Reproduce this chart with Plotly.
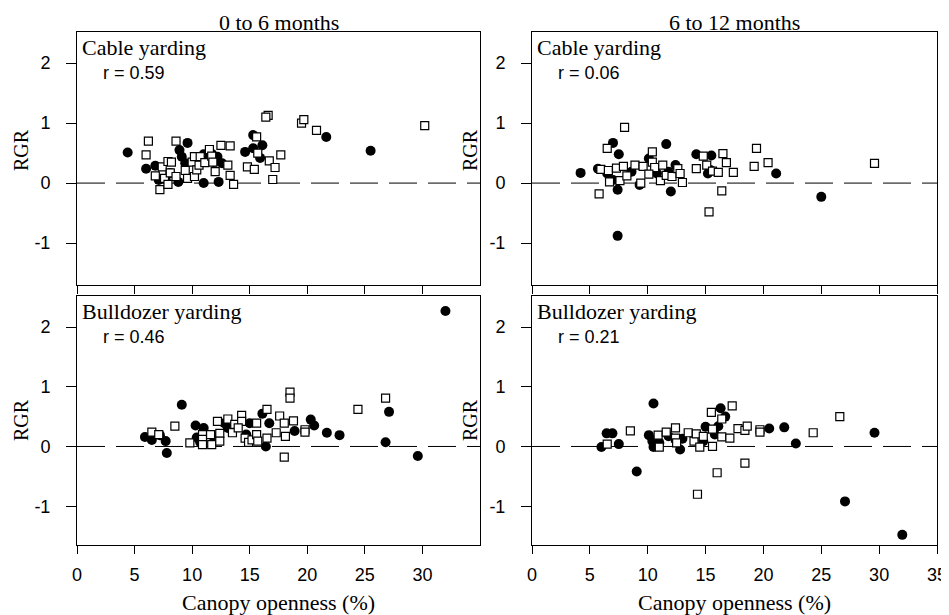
import plotly.graph_objects as go

# ---------------- data ----------------
# Top-left: Cable yarding, 0 to 6 months
cab06_circ_x = [4.4, 6.0, 6.8, 7.1, 8.8, 8.9, 9.6, 9.1, 9.4, 11.0, 12.3, 11.0, 11.7, 12.2, 12.6, 11.9, 8.1, 7.7,
                14.6, 15.3, 15.3, 16.1, 15.9, 21.65, 25.5]
cab06_circ_y = [0.51, 0.24, 0.29, 0.05, 0.02, 0.55, 0.67, 0.44, 0.33, 0.00, 0.02, 0.48, 0.49, 0.44, 0.33, 0.35, 0.17, 0.06,
                0.52, 0.80, 0.58, 0.63, 0.42, 0.77, 0.54]
cab06_sq_x = [6.2, 6.0, 6.8, 7.2, 7.4, 7.6, 7.9, 7.9, 8.1, 8.2, 8.6, 8.6, 9.4, 9.6, 10.0, 10.2, 10.2, 10.4, 10.6, 10.7,
              11.1, 11.5, 11.7, 11.8, 12.0, 12.5, 13.3, 13.1, 13.3, 13.6, 15.6, 15.7, 14.8, 15.4, 16.6, 16.4, 16.7,
              17.2, 17.7, 17.0, 19.5, 19.7, 20.8, 30.2]
cab06_sq_y = [0.70, 0.47, 0.12, -0.11, 0.27, 0.08, -0.02, 0.36, 0.17, 0.35, 0.70, 0.11, 0.21, 0.08, 0.35, 0.44, 0.11, 0.22,
              0.30, 0.44, 0.34, 0.56, 0.45, 0.35, 0.19, 0.63, 0.62, 0.30, 0.13, -0.02, 0.77, 0.50, 0.27, 0.23, 1.13,
              1.10, 0.37, 0.26, 0.47, 0.06, 1.00, 1.06, 0.88, 0.96]

# Top-right: Cable yarding, 6 to 12 months
cab612_circ_x = [4.2, 5.7, 7.0, 7.5, 7.4, 7.4, 6.5, 7.0, 8.6, 9.3, 10.1, 10.8, 11.6, 12.0, 12.4, 11.8, 14.2, 15.5,
                 15.2, 15.4, 21.1, 25.0]
cab612_circ_y = [0.17, 0.24, 0.67, 0.48, -0.11, -0.88, 0.16, 0.05, 0.19, -0.03, 0.41, 0.16, 0.65, -0.14, 0.30, 0.19,
                 0.48, 0.46, 0.16, 0.22, 0.16, -0.23]
cab612_sq_x = [5.8, 6.5, 8.0, 5.95, 6.6, 6.7, 7.3, 7.9, 7.6, 8.2, 8.9, 9.4, 9.6, 10.4, 10.4, 10.6, 10.1, 11.1, 11.3,
               11.6, 12.1, 12.6, 12.8, 13.0, 14.2, 14.8, 15.1, 15.3, 15.6, 16.1, 16.5, 16.8, 16.4, 17.4, 19.2, 19.4,
               20.4, 29.6]
cab612_sq_y = [-0.18, 0.58, 0.93, 0.23, 0.21, 0.02, 0.25, 0.28, 0.04, 0.12, 0.30, 0.00, 0.28, 0.52, 0.35, 0.26, 0.15,
               0.04, 0.30, 0.13, 0.11, 0.24, 0.16, 0.01, 0.24, 0.45, 0.30, -0.48, 0.20, 0.18, 0.49, 0.34, -0.13, 0.18,
               0.28, 0.58, 0.34, 0.33]

# Bottom-left: Bulldozer yarding, 0 to 6 months
bul06_circ_x = [32.0, 5.9, 6.5, 7.2, 7.7, 7.8, 9.1, 10.3, 11.0, 10.4, 10.7, 11.8, 12.8, 13.1, 15.0, 16.1, 16.7, 16.4,
                14.7, 18.9, 20.3, 20.6, 21.7, 22.8, 26.8, 27.1, 29.6]
bul06_circ_y = [2.27, 0.16, 0.11, 0.19, 0.09, -0.11, 0.70, 0.35, 0.31, 0.15, 0.07, 0.18, 0.39, 0.31, 0.39, 0.55, 0.39,
                0.00, 0.20, 0.26, 0.45, 0.35, 0.23, 0.19, 0.07, 0.58, -0.16]
bul06_sq_x = [6.5, 7.1, 8.5, 9.8, 10.9, 10.9, 10.9, 11.6, 11.7, 12.2, 12.4, 12.4, 13.1, 13.5, 13.7, 14.3, 14.3, 14.0,
              14.6, 14.9, 15.2, 15.6, 15.6, 15.7, 16.5, 16.5, 17.3, 17.6, 18.0, 18.1, 18.0, 18.5, 18.5, 18.8, 19.8,
              19.8, 24.4, 26.8]
bul06_sq_y = [0.24, 0.20, 0.34, 0.06, 0.20, 0.12, 0.03, 0.20, 0.03, 0.42, 0.22, 0.09, 0.46, 0.23, 0.37, 0.52, 0.42, 0.31,
              0.14, 0.07, 0.11, 0.20, 0.39, 0.09, 0.62, 0.14, 0.23, 0.51, 0.39, 0.17, -0.18, 0.91, 0.81, 0.43, 0.28,
              0.24, 0.62, 0.81]

# Bottom-right: Bulldozer yarding, 6 to 12 months
bul612_circ_x = [6.0, 6.45, 6.95, 7.5, 9.05, 10.1, 10.4, 10.5, 10.5, 11.0, 11.8, 12.8, 13.0, 15.0, 14.8, 15.8, 16.1,
                 16.3, 16.7, 20.5, 21.8, 22.8, 27.05, 29.6, 32.0]
bul612_circ_y = [-0.01, 0.22, 0.22, 0.04, -0.42, 0.19, 0.09, 0.72, -0.01, 0.06, 0.17, -0.05, 0.13, 0.33, 0.09, 0.20,
                 0.34, 0.64, 0.50, 0.30, 0.32, 0.05, -0.92, 0.23, -1.48]
bul612_sq_x = [6.5, 8.5, 10.9, 11.0, 11.6, 12.4, 12.4, 12.5, 13.5, 14.0, 14.2, 14.3, 14.5, 14.8, 15.5, 15.6, 15.6,
               16.0, 16.4, 16.4, 17.1, 17.3, 17.8, 18.4, 18.6, 18.4, 19.7, 19.7, 24.3, 26.6]
bul612_sq_y = [0.04, 0.26, 0.19, -0.01, 0.24, 0.31, 0.14, 0.06, 0.23, 0.09, 0.21, -0.80, -0.01, 0.17, 0.57, 0.29, 0.00,
               -0.44, 0.46, 0.16, 0.14, 0.68, 0.30, 0.27, 0.34, -0.28, 0.28, 0.24, 0.23, 0.50]

period_titles = ["0 to 6 months", "6 to 12 months"]
method_labels = ["Cable yarding", "Bulldozer yarding"]
r_labels = [["r = 0.59", "r = 0.06"], ["r = 0.46", "r = 0.21"]]
y_tickvals = [-1, 0, 1, 2]
y_ticktext = ["-1", "0", "1", "2"]
x_tickvals_left = [0, 5, 10, 15, 20, 25, 30]
x_tickvals_right = [0, 5, 10, 15, 20, 25, 30, 35]
x_axis_title = "Canopy openness (%)"
y_axis_title = "RGR"

# ---------------- figure ----------------
# The page body has an 8px margin, so the figure is drawn 8px in from the
# window's top-left corner; size it to fill the rest of the 949x615 window.
OFF = 8
W, H = 949 - OFF, 615 - OFF
SERIF = "Liberation Serif"
SANS = "Liberation Sans"

def px_x(p):
    return (p - OFF) / W

def px_y(p):
    return (615 - p) / H

x_dom = [[px_x(77), px_x(480)], [px_x(532), px_x(937)]]
y_dom = [[px_y(285), px_y(32)], [px_y(545), px_y(296)]]
y_rng = [[-1.7, 2.52], [-1.65, 2.52]]

panels = [
    (0, 0, cab06_circ_x, cab06_circ_y, cab06_sq_x, cab06_sq_y),
    (0, 1, cab612_circ_x, cab612_circ_y, cab612_sq_x, cab612_sq_y),
    (1, 0, bul06_circ_x, bul06_circ_y, bul06_sq_x, bul06_sq_y),
    (1, 1, bul612_circ_x, bul612_circ_y, bul612_sq_x, bul612_sq_y),
]

fig = go.Figure()
layout = dict(
    width=W, height=H,
    margin=dict(l=0, r=0, t=0, b=0, autoexpand=False),
    paper_bgcolor="white", plot_bgcolor="white",
    showlegend=False,
    font=dict(family=SANS, size=18, color="black"),
)
annotations = []
shapes = []

for i, (row, col, cx, cy, sx, sy) in enumerate(panels):
    n = i + 1
    xa = "x" if n == 1 else f"x{n}"
    ya = "y" if n == 1 else f"y{n}"
    fig.add_trace(go.Scatter(
        x=cx, y=cy, mode="markers", xaxis=xa, yaxis=ya,
        marker=dict(symbol="circle", size=10, color="black", line=dict(width=0)),
        hoverinfo="skip"))
    fig.add_trace(go.Scatter(
        x=sx, y=sy, mode="markers", xaxis=xa, yaxis=ya,
        marker=dict(symbol="square", size=8, color="white", line=dict(width=1.2, color="black")),
        hoverinfo="skip"))
    xkey = "xaxis" if n == 1 else f"xaxis{n}"
    ykey = "yaxis" if n == 1 else f"yaxis{n}"
    layout[xkey] = dict(
        domain=x_dom[col], range=[0, 35], anchor=ya, automargin=False,
        tickmode="array", tickvals=x_tickvals_left if col == 0 else x_tickvals_right,
        ticks="outside", ticklen=8, tickwidth=1, tickcolor="black",
        showticklabels=(row == 1), ticklabelstandoff=5,
        tickfont=dict(family=SANS, size=18, color="black"),
        showline=True, linecolor="black", linewidth=1, mirror=True,
        showgrid=False, zeroline=False,
    )
    layout[ykey] = dict(
        domain=y_dom[row], range=y_rng[row], anchor=xa, automargin=False,
        tickmode="array", tickvals=y_tickvals, ticktext=y_ticktext,
        ticks="outside", ticklen=10, tickwidth=1, tickcolor="black",
        ticklabelstandoff=12,
        tickfont=dict(family=SANS, size=18, color="black"),
        showline=True, linecolor="black", linewidth=1, mirror=True,
        showgrid=False, zeroline=False,
    )
    # dashed zero reference line
    shapes.append(dict(type="line", xref=xa, yref=ya, x0=0, x1=35, y0=0, y1=0,
                       line=dict(color="black", width=1, dash="28px,11px"), layer="below"))
    # panel labels
    left = x_dom[col][0]
    top = y_dom[row][1]
    annotations.append(dict(text=method_labels[row], xref="paper", yref="paper",
                            x=left + 3 / W, y=top - 1 / H, xanchor="left", yanchor="top",
                            showarrow=False, font=dict(family=SERIF, size=22, color="black")))
    annotations.append(dict(text=r_labels[row][col], xref="paper", yref="paper",
                            x=left + 24 / W, y=top - 29 / H, xanchor="left", yanchor="top",
                            showarrow=False, font=dict(family=SANS, size=18, color="black")))

# column titles
for col in range(2):
    cxp = (x_dom[col][0] + x_dom[col][1]) / 2
    annotations.append(dict(text=period_titles[col], xref="paper", yref="paper",
                            x=cxp, y=px_y(22), xanchor="center", yanchor="middle",
                            showarrow=False, font=dict(family=SERIF, size=22, color="black")))
    annotations.append(dict(text=x_axis_title, xref="paper", yref="paper",
                            x=cxp, y=px_y(602), xanchor="center", yanchor="middle",
                            showarrow=False, font=dict(family=SERIF, size=22, color="black")))

# y-axis titles
for row, yc in enumerate([150, 420]):
    for xc in [21, 470]:
        annotations.append(dict(text=y_axis_title, xref="paper", yref="paper",
                                x=px_x(xc), y=px_y(yc), xanchor="center", yanchor="middle",
                                textangle=-90, showarrow=False,
                                font=dict(family=SERIF, size=20, color="black")))

layout["annotations"] = annotations
layout["shapes"] = shapes
fig.update_layout(**layout)
fig.write_html("out.html")
